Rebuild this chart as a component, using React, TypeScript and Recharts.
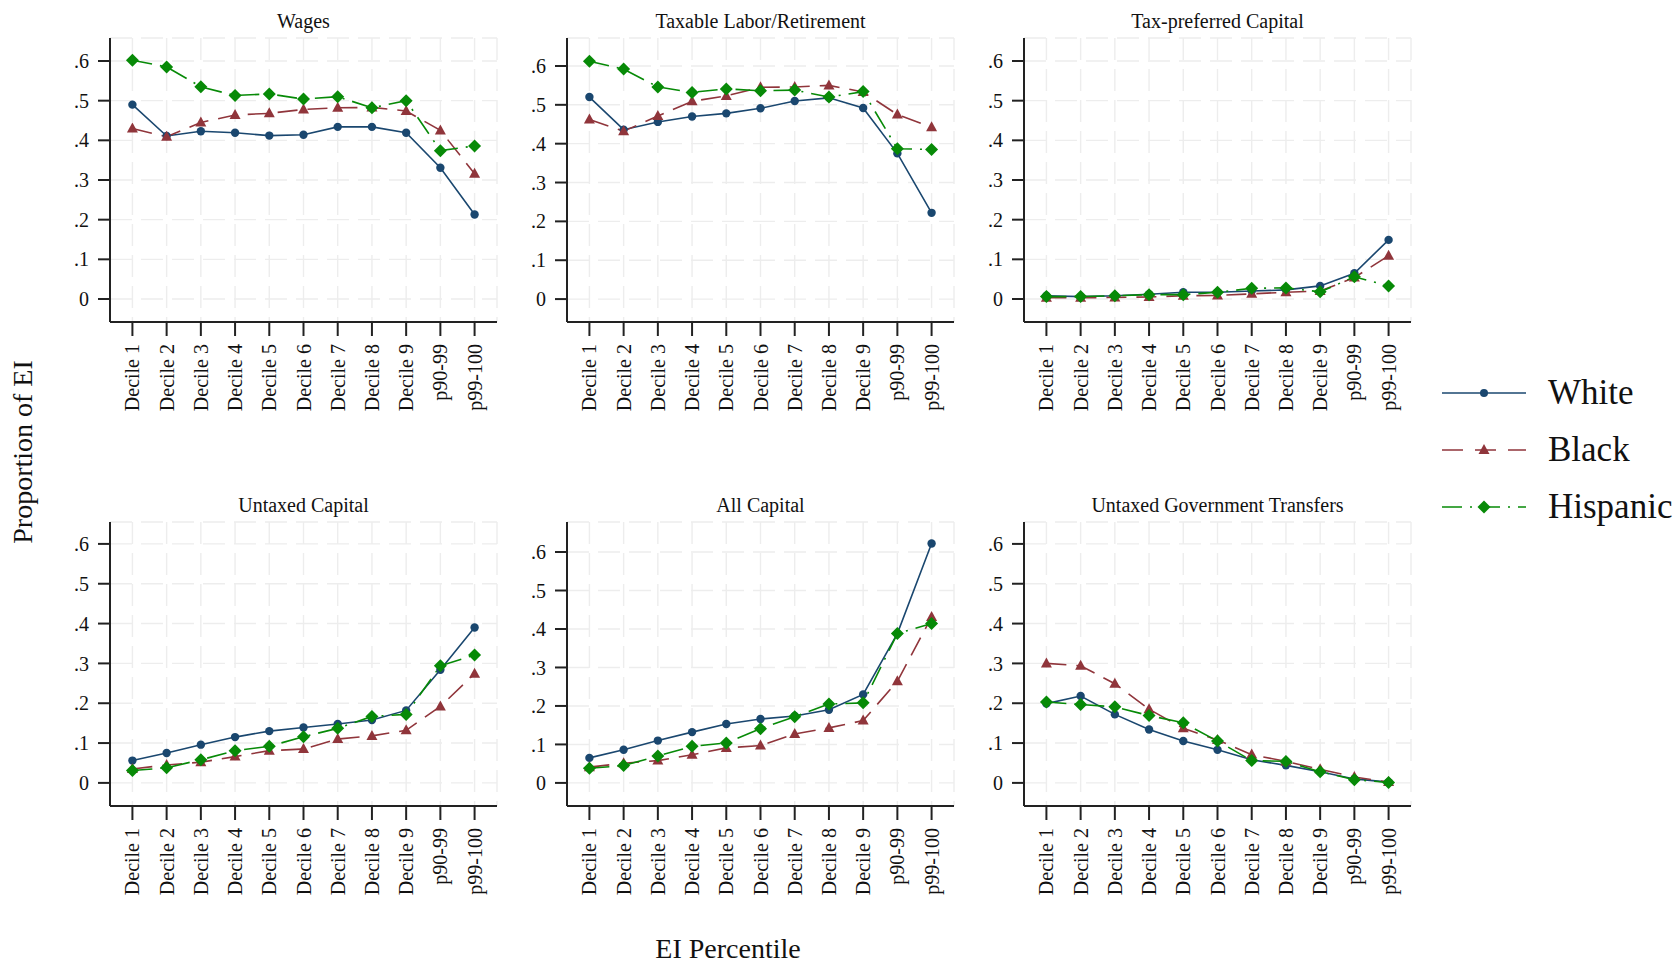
import React from "react";
import { LineChart, Line, XAxis, YAxis, CartesianGrid } from "recharts";

const percentiles = [
  "Decile 1", "Decile 2", "Decile 3", "Decile 4", "Decile 5", "Decile 6",
  "Decile 7", "Decile 8", "Decile 9", "p90-99", "p99-100",
];
const yTicks = [0, 0.1, 0.2, 0.3, 0.4, 0.5, 0.6];

const wagesWhite = [0.49, 0.411, 0.423, 0.419, 0.412, 0.414, 0.434, 0.434, 0.419, 0.331, 0.213];
const wagesBlack = [0.43, 0.409, 0.445, 0.464, 0.468, 0.478, 0.482, 0.483, 0.474, 0.425, 0.316];
const wagesHispanic = [0.602, 0.585, 0.535, 0.513, 0.517, 0.504, 0.51, 0.482, 0.5, 0.374, 0.386];

const laborWhite = [0.52, 0.436, 0.456, 0.47, 0.478, 0.491, 0.51, 0.518, 0.492, 0.375, 0.222];
const laborBlack = [0.462, 0.432, 0.471, 0.509, 0.523, 0.545, 0.546, 0.55, 0.533, 0.475, 0.442];
const laborHispanic = [0.612, 0.592, 0.546, 0.532, 0.541, 0.536, 0.538, 0.52, 0.534, 0.387, 0.385];

const taxPrefWhite = [0.008, 0.006, 0.008, 0.012, 0.017, 0.017, 0.02, 0.023, 0.033, 0.065, 0.149];
const taxPrefBlack = [0.003, 0.003, 0.004, 0.005, 0.008, 0.009, 0.013, 0.017, 0.02, 0.054, 0.109];
const taxPrefHispanic = [0.006, 0.006, 0.008, 0.011, 0.011, 0.017, 0.027, 0.028, 0.018, 0.056, 0.033];

const untaxedWhite = [0.056, 0.075, 0.096, 0.115, 0.13, 0.139, 0.148, 0.158, 0.182, 0.284, 0.39];
const untaxedBlack = [0.035, 0.045, 0.052, 0.066, 0.081, 0.085, 0.11, 0.118, 0.132, 0.192, 0.274];
const untaxedHispanic = [0.031, 0.038, 0.058, 0.081, 0.092, 0.116, 0.137, 0.167, 0.172, 0.294, 0.321];

const allCapWhite = [0.065, 0.086, 0.11, 0.132, 0.153, 0.166, 0.174, 0.19, 0.23, 0.388, 0.622];
const allCapBlack = [0.041, 0.051, 0.058, 0.073, 0.091, 0.097, 0.127, 0.143, 0.162, 0.264, 0.431];
const allCapHispanic = [0.038, 0.045, 0.07, 0.095, 0.104, 0.141, 0.172, 0.205, 0.208, 0.388, 0.414];

const transfersWhite = [0.199, 0.218, 0.172, 0.134, 0.105, 0.083, 0.058, 0.044, 0.028, 0.01, 0.002];
const transfersBlack = [0.3, 0.294, 0.249, 0.185, 0.137, 0.108, 0.071, 0.054, 0.034, 0.015, 0.002];
const transfersHispanic = [0.203, 0.197, 0.191, 0.169, 0.151, 0.105, 0.056, 0.054, 0.028, 0.008, 0.001];

const NAVY = "#1a476f";
const MAROON = "#90353b";
const GREEN = "#078a07";
const FONT = '"Liberation Serif", "Times New Roman", serif';

const panels = [
  { title: "Wages", w: wagesWhite, b: wagesBlack, h: wagesHispanic, left: 110, top: 38, domain: [-0.058, 0.658] },
  { title: "Taxable Labor/Retirement", w: laborWhite, b: laborBlack, h: laborHispanic, left: 567, top: 38, domain: [-0.059, 0.672] },
  { title: "Tax-preferred Capital", w: taxPrefWhite, b: taxPrefBlack, h: taxPrefHispanic, left: 1024, top: 38, domain: [-0.058, 0.658] },
  { title: "Untaxed Capital", w: untaxedWhite, b: untaxedBlack, h: untaxedHispanic, left: 110, top: 522, domain: [-0.058, 0.655] },
  { title: "All Capital", w: allCapWhite, b: allCapBlack, h: allCapHispanic, left: 567, top: 522, domain: [-0.06, 0.678] },
  { title: "Untaxed Government Transfers", w: transfersWhite, b: transfersBlack, h: transfersHispanic, left: 1024, top: 522, domain: [-0.058, 0.655] },
];

const PLOT_W = 387;
const PLOT_H = 284;
const Y_AXIS_W = 80;
const X_AXIS_H = 100;
const PAD = 10;

const fmtTick = (v: number) => (v === 0 ? "0" : v.toFixed(1).replace(/^0/, ""));

const circleDot = (p: any) => (
  <circle key={`c-${p.index}`} cx={p.cx} cy={p.cy} r={4.2} fill={NAVY} />
);
const triangleDot = (p: any) => (
  <polygon
    key={`t-${p.index}`}
    points={`${p.cx},${p.cy - 6} ${p.cx - 5.5},${p.cy + 4} ${p.cx + 5.5},${p.cy + 4}`}
    fill={MAROON}
  />
);
const diamondDot = (p: any) => (
  <polygon
    key={`d-${p.index}`}
    points={`${p.cx},${p.cy - 6.5} ${p.cx + 6.5},${p.cy} ${p.cx},${p.cy + 6.5} ${p.cx - 6.5},${p.cy}`}
    fill={GREEN}
  />
);

// category labels read bottom-to-top, ending just under the tick
const RotatedTick = (props: any) => {
  const { x, y, payload } = props;
  return (
    <text
      x={x}
      y={y}
      transform={`rotate(-90, ${x}, ${y})`}
      textAnchor="end"
      dy="0.35em"
      fontSize={20}
      fontFamily={FONT}
      fill="#111"
    >
      {percentiles[payload.value - 1]}
    </text>
  );
};

const Panel = ({ cfg }: { cfg: (typeof panels)[number] }) => {
  const rows = percentiles.map((_, i) => ({
    x: i + 1,
    white: cfg.w[i],
    black: cfg.b[i],
    hispanic: cfg.h[i],
  }));
  return (
    <div style={{ position: "absolute", left: cfg.left - Y_AXIS_W, top: cfg.top - PAD }}>
      <LineChart
        width={PLOT_W + Y_AXIS_W + PAD}
        height={PLOT_H + PAD + X_AXIS_H}
        data={rows}
        margin={{ top: PAD, right: PAD, bottom: 0, left: 0 }}
      >
        <CartesianGrid stroke="#ededed" strokeWidth={1.4} strokeDasharray="22 9" />
        <XAxis
          dataKey="x"
          type="number"
          domain={[0.345, 11.655]}
          ticks={percentiles.map((_, i) => i + 1)}
          interval={0}
          allowDataOverflow
          height={X_AXIS_H}
          tickSize={14}
          tickMargin={8}
          tick={<RotatedTick />}
          axisLine={{ stroke: "#222", strokeWidth: 2 }}
          tickLine={{ stroke: "#222", strokeWidth: 2 }}
        />
        <YAxis
          type="number"
          domain={cfg.domain}
          ticks={yTicks}
          interval={0}
          allowDataOverflow
          width={Y_AXIS_W}
          tickSize={12}
          tickMargin={9}
          tickFormatter={fmtTick}
          tick={{ fontSize: 20, fontFamily: FONT, fill: "#111" }}
          axisLine={{ stroke: "#222", strokeWidth: 2 }}
          tickLine={{ stroke: "#222", strokeWidth: 2 }}
        />
        <Line type="linear" dataKey="white" stroke={NAVY} strokeWidth={1.6} dot={circleDot} activeDot={false} isAnimationActive={false} />
        <Line type="linear" dataKey="black" stroke={MAROON} strokeWidth={1.6} strokeDasharray="20 10" dot={triangleDot} activeDot={false} isAnimationActive={false} />
        <Line type="linear" dataKey="hispanic" stroke={GREEN} strokeWidth={1.6} strokeDasharray="20 8 2 8" dot={diamondDot} activeDot={false} isAnimationActive={false} />
      </LineChart>
      <div
        style={{
          position: "absolute",
          left: Y_AXIS_W,
          width: PLOT_W,
          top: PAD - 29,
          textAlign: "center",
          fontSize: 20,
          fontFamily: FONT,
          color: "#111",
          lineHeight: "24px",
        }}
      >
        {cfg.title}
      </div>
    </div>
  );
};

const legendItems = [
  { name: "White", color: NAVY, dash: undefined, dot: "circle" },
  { name: "Black", color: MAROON, dash: "21 12", dot: "triangle" },
  { name: "Hispanic", color: GREEN, dash: "20 8 2 8", dot: "diamond" },
];

const LegendIcon = ({ color, dash, dot }: { color: string; dash?: string; dot: string }) => (
  <svg width={86} height={20} style={{ display: "block" }}>
    <line x1={0} y1={10} x2={84} y2={10} stroke={color} strokeWidth={1.6} strokeDasharray={dash} />
    {dot === "circle" && <circle cx={42} cy={10} r={4} fill={color} />}
    {dot === "triangle" && <polygon points="42,4 36.5,14 47.5,14" fill={color} />}
    {dot === "diamond" && <polygon points="42,3.5 48.5,10 42,16.5 35.5,10" fill={color} />}
  </svg>
);

export default function App() {
  return (
    <div style={{ position: "absolute", left: 0, top: 0, width: 1677, height: 965, background: "#fff", overflow: "hidden" }}>
      {panels.map((p) => (
        <Panel key={p.title} cfg={p} />
      ))}
      <div
        style={{
          position: "absolute",
          left: 23,
          top: 452,
          transform: "translate(-50%, -50%) rotate(-90deg)",
          whiteSpace: "nowrap",
          fontSize: 28,
          lineHeight: "30px",
          fontFamily: FONT,
          color: "#111",
        }}
      >
        Proportion of EI
      </div>
      <div
        style={{
          position: "absolute",
          left: 728,
          top: 949,
          transform: "translate(-50%, -50%)",
          whiteSpace: "nowrap",
          fontSize: 28,
          lineHeight: "30px",
          fontFamily: FONT,
          color: "#111",
        }}
      >
        EI Percentile
      </div>
      {legendItems.map((it, i) => (
        <div
          key={it.name}
          style={{ position: "absolute", left: 1442, top: 393 + i * 57 - 20, height: 40, display: "flex", alignItems: "center" }}
        >
          <LegendIcon color={it.color} dash={it.dash} dot={it.dot} />
          <span style={{ marginLeft: 20, fontSize: 35, fontFamily: FONT, color: "#111", lineHeight: "40px" }}>{it.name}</span>
        </div>
      ))}
    </div>
  );
}
